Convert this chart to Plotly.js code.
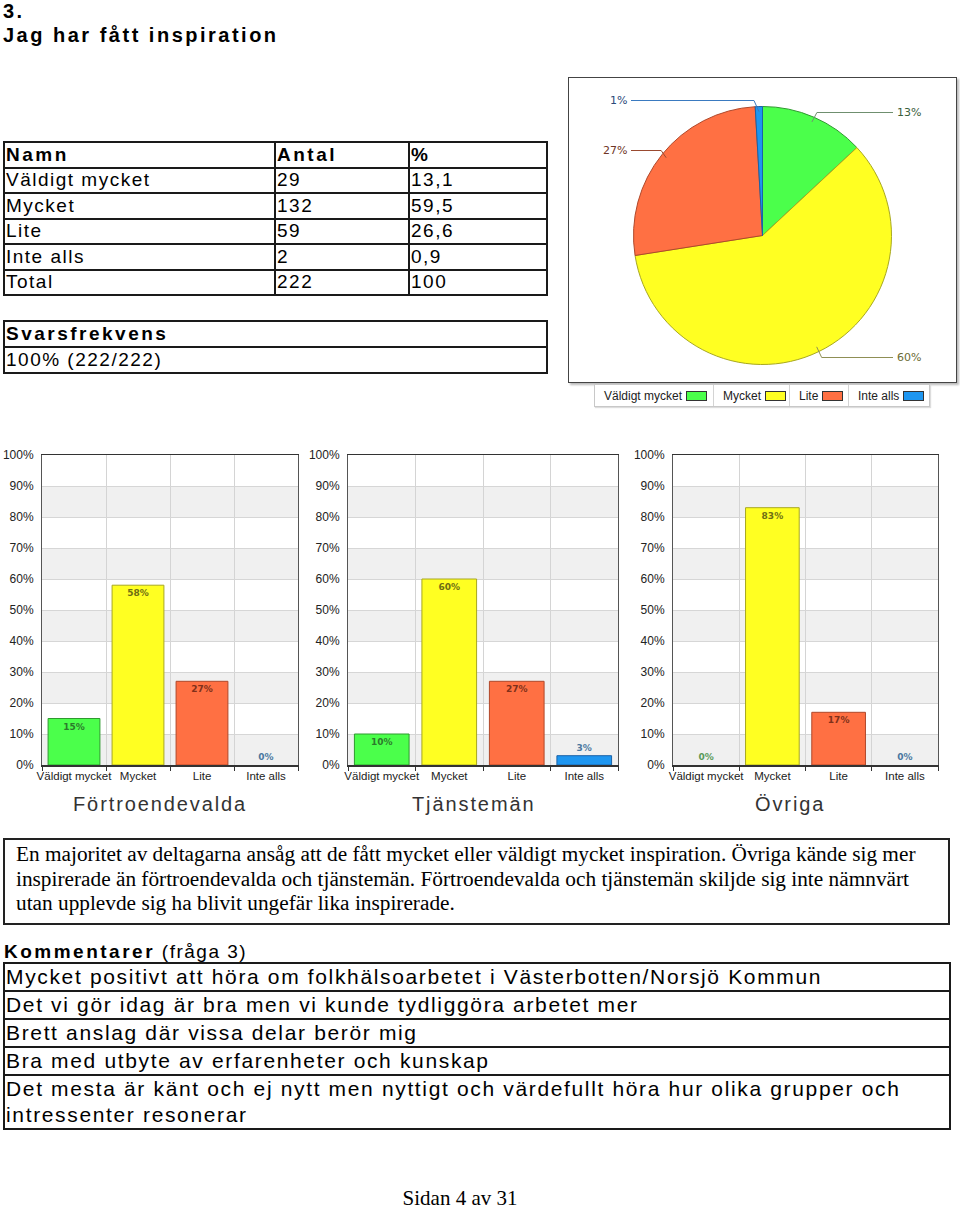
<!DOCTYPE html>
<html><head><meta charset="utf-8">
<script src="https://cdn.plot.ly/plotly-3.0.1.min.js"></script>
<style>
body{margin:0;background:#fff;}
#page{position:relative;width:960px;height:1209px;overflow:hidden;font-family:'Liberation Sans',Arial,sans-serif;color:#000;}
.abs{position:absolute;white-space:nowrap;}
table.grid{position:absolute;border-collapse:collapse;table-layout:fixed;}
table.grid td{border:2px solid #1a1a1a;padding:0 0 0 1px;white-space:nowrap;overflow:hidden;vertical-align:middle;}
.legend{position:absolute;left:594px;top:384px;width:334px;height:21px;border:1px solid #c8c8c8;box-shadow:1px 1px 1px #ddd;display:flex;align-items:center;font-family:'Liberation Sans',Arial,sans-serif;font-size:12px;color:#222;background:#fff;white-space:nowrap;}
.legend .item{display:flex;flex:none;align-items:center;justify-content:flex-start;height:100%;border-right:1px solid #d4d4d4;padding:0 0 0 9px;box-sizing:border-box;white-space:nowrap;}
.legend .item:last-child{border-right:none;}
.legend .sw{display:inline-block;width:19px;height:8px;margin-left:4px;border:1px solid #333;}
.ctitle{position:absolute;font-family:'Liberation Sans',Arial,sans-serif;font-size:20px;letter-spacing:1.9px;color:#333;white-space:nowrap;line-height:20px;}
</style></head><body>
<div id="page">
  <div class="abs" style="left:3px;top:1px;font-size:20px;line-height:20px;font-weight:bold;letter-spacing:2.5px;">3.</div>
  <div class="abs" style="left:3px;top:25px;font-size:20px;line-height:20px;font-weight:bold;letter-spacing:2.5px;">Jag har fått inspiration</div>

  <table class="grid" id="mainTable" style="left:3px;top:141px;width:545px;"></table>
  <table class="grid" id="svarTable" style="left:3px;top:320px;width:545px;"></table>

  <div style="position:absolute;left:568px;top:77px;width:387px;height:304px;border:1.5px solid #444;box-shadow:2px 2px 2px #bbb;background:#fff;">
    <div id="pie" style="width:387px;height:304px;"></div>
  </div>
  <div class="legend" id="pieLegend"></div>

  <div id="bar1" style="position:absolute;left:0px;top:445px;width:320px;height:345px;"></div>
  <div id="bar2" style="position:absolute;left:300px;top:445px;width:340px;height:345px;"></div>
  <div id="bar3" style="position:absolute;left:620px;top:445px;width:340px;height:345px;"></div>

  <div class="ctitle" id="t1" style="left:73px;top:794px;"></div>
  <div class="ctitle" id="t2" style="left:412px;top:794px;"></div>
  <div class="ctitle" id="t3" style="left:755px;top:794px;"></div>

  <div style="position:absolute;left:3px;top:838px;width:932px;height:81px;border:2px solid #222;padding:2px 0 0 11px;font-family:'Liberation Serif','Times New Roman',serif;font-size:21.3px;line-height:24.5px;white-space:nowrap;">En majoritet av deltagarna ansåg att de fått mycket eller väldigt mycket inspiration. Övriga kände sig mer<br>inspirerade än förtroendevalda och tjänstemän. Förtroendevalda och tjänstemän skiljde sig inte nämnvärt<br>utan upplevde sig ha blivit ungefär lika inspirerade.</div>

  <div class="abs" style="left:4px;top:942px;font-size:19px;line-height:19px;letter-spacing:1.5px;"><b style="letter-spacing:2.5px;">Kommentarer</b> (fråga 3)</div>
  <table class="grid" id="commentTable" style="left:3px;top:962px;width:948px;"></table>

  <div class="abs" style="left:0;width:920px;top:1189px;text-align:center;font-family:'Liberation Serif','Times New Roman',serif;font-size:21px;line-height:18px;">Sidan 4 av 31</div>
</div>
<script>
// ---------- DATA ----------
const categories = ['Väldigt mycket', 'Mycket', 'Lite', 'Inte alls'];
const antal = [29, 132, 59, 2];
const procent = ['13,1', '59,5', '26,6', '0,9'];
const totalAntal = 222;
const totalProcent = '100';
const svarsfrekvens = '100% (222/222)';
const pieLabels = ['13%', '60%', '27%', '1%'];

const groups = ['Förtroendevalda', 'Tjänstemän', 'Övriga'];
const fortroendevalda = [15, 58, 27, 0];
const tjansteman = [10, 60, 27, 3];
const ovriga = [0, 83, 17, 0];

const comments = [
  'Mycket positivt att höra om folkhälsoarbetet i Västerbotten/Norsjö Kommun',
  'Det vi gör idag är bra men vi kunde tydliggöra arbetet mer',
  'Brett anslag där vissa delar berör mig',
  'Bra med utbyte av erfarenheter och kunskap',
  'Det mesta är känt och ej nytt men nyttigt och värdefullt höra hur olika grupper och<br>intressenter resonerar'
];

// ---------- STYLES ----------
const fillColors = ['#4bff4b', '#ffff22', '#ff7043', '#1e96f0'];
const lineColors = ['#2f9a2f', '#a8a820', '#b0482a', '#1a62a8'];
const barTextColors = ['#2c7a2c', '#6e6e14', '#80301a', '#4a78a0'];
const zeroTextColors = ['#5a9a5a', '#6e6e14', '#80301a', '#4a78a0'];
const pieTextColors = ['#3b5e3b', '#6b6b33', '#6e3525', '#2b4a7a'];
const pieLeaderColors = ['#6f8f6f', '#8f8f55', '#9a4a30', '#3a7ac0'];
const legendWidths = [119, 76, 59, 80];

// ---------- TABLES ----------
const tblFont = "font-size:19px;letter-spacing:1.5px;line-height:20px;";
let h = '<colgroup><col style="width:271px"><col style="width:134px"><col style="width:138px"></colgroup>';
h += `<tr style="height:25.5px;${tblFont}"><td><b style="letter-spacing:2.5px">Namn</b></td><td><b style="letter-spacing:2.5px">Antal</b></td><td><b>%</b></td></tr>`;
categories.forEach((c, i) => {
  h += `<tr style="height:25.5px;${tblFont}"><td>${c}</td><td>${antal[i]}</td><td>${procent[i]}</td></tr>`;
});
h += `<tr style="height:25.5px;${tblFont}"><td>Total</td><td>${totalAntal}</td><td>${totalProcent}</td></tr>`;
document.getElementById('mainTable').innerHTML = h;
document.getElementById('svarTable').innerHTML =
  `<tr style="height:26px;${tblFont}"><td><b style="letter-spacing:2.5px">Svarsfrekvens</b></td></tr>` +
  `<tr style="height:26px;${tblFont}"><td>${svarsfrekvens}</td></tr>`;
let ch = '';
const rowH = [28, 27.5, 28, 27.5, 53];
comments.forEach((c, i) => {
  ch += `<tr style="height:${rowH[i]}px;font-size:21px;letter-spacing:1.65px;line-height:26px;"><td style="padding-left:1px">${c}</td></tr>`;
});
document.getElementById('commentTable').innerHTML = ch;

// chart titles
['t1', 't2', 't3'].forEach((id, i) => { document.getElementById(id).textContent = groups[i]; });

// legend
document.getElementById('pieLegend').innerHTML = categories.map((c, i) =>
  `<div class="item" style="width:${legendWidths[i]}px">${c}<span class="sw" style="background:${fillColors[i]}"></span></div>`).join('');

// ---------- PIE ----------
const PW = 387, PH = 304;
const pcx = 193.5, pcy = 157.5, pr = 129;
const labelY = [34.5, 279.5, 72.5, 22.5];
const rightLabelX = 326, leftLabelX = 60;

const total = antal.reduce((a, b) => a + b, 0);
let cum = 0;
const pieShapes = [], pieAnn = [];
antal.forEach((v, i) => {
  const mid = (cum + v / 2) / total * 2 * Math.PI;
  cum += v;
  const px = pcx + 0.96 * pr * Math.sin(mid);
  const py = pcy - 0.96 * pr * Math.cos(mid);
  const right = px > pcx;
  const lx = right ? rightLabelX : leftLabelX;
  const startX = right ? lx - 2 : lx + 2;
  const elbowX = right ? px + 5 : px - 5;
  const P = (x, y) => `${x / PW},${1 - y / PH}`;
  pieShapes.push({
    type: 'path', xref: 'paper', yref: 'paper',
    path: `M ${P(startX, labelY[i])} L ${P(elbowX, labelY[i])} L ${P(px, py)}`,
    line: { color: pieLeaderColors[i], width: 1 }
  });
  pieAnn.push({
    xref: 'paper', yref: 'paper', x: lx / PW, y: 1 - labelY[i] / PH,
    xanchor: right ? 'left' : 'right', yanchor: 'middle', showarrow: false,
    text: pieLabels[i], font: { family: 'DejaVu Sans, Verdana, sans-serif', size: 11, color: pieTextColors[i] }
  });
});

Plotly.newPlot('pie', [{
  type: 'pie', values: antal, labels: categories, sort: false, direction: 'clockwise', rotation: 0,
  marker: { colors: fillColors, line: { color: lineColors, width: 1 } },
  textinfo: 'none', hoverinfo: 'skip',
  domain: { x: [(pcx - pr) / PW, (pcx + pr) / PW], y: [(PH - pcy - pr) / PH, (PH - pcy + pr) / PH] }
}], {
  width: PW, height: PH, margin: { l: 0, r: 0, t: 0, b: 0 }, showlegend: false,
  paper_bgcolor: '#fff', shapes: pieShapes, annotations: pieAnn
}, { staticPlot: true, displayModeBar: false });

// ---------- BARS ----------
const fam = "'Liberation Sans Narrow', 'Arial Narrow', 'Liberation Sans', Arial, sans-serif";
const xTickFont = { family: fam, size: 11.5, color: '#222' };
const yTickFont = { family: fam, size: 12, color: '#222' };
function bandShapes() {
  const s = [];
  for (let v = 0; v < 100; v += 20) {
    s.push({ type: 'rect', xref: 'paper', yref: 'y', x0: 0, x1: 1, y0: v, y1: v + 10, fillcolor: '#f0f0f0', line: { width: 0 }, layer: 'below' });
  }
  return s;
}
function barChart(id, values, w, ml) {
  Plotly.newPlot(id, [{
    type: 'bar', x: categories, y: values,
    marker: { color: fillColors, line: { color: lineColors, width: values.map(v => v > 0 ? 1 : 0) } },
    text: values.map(v => v + '%'),
    textposition: values.map(v => v >= 8 ? 'inside' : 'outside'),
    insidetextanchor: 'end', constraintext: 'none', cliponaxis: false,
    textfont: { family: 'DejaVu Sans, Verdana, sans-serif', size: 9, weight: 'bold',
      color: values.map((v, i) => v === 0 ? zeroTextColors[i] : barTextColors[i]) },
    hoverinfo: 'skip'
  }], {
    width: w, height: 345, margin: { l: ml, r: 22, t: 10, b: 25 },
    paper_bgcolor: 'rgba(0,0,0,0)', plot_bgcolor: '#fff', showlegend: false, bargap: 0.19,
    xaxis: {
      type: 'category', tickson: 'boundaries', ticks: 'outside', ticklen: 4, tickcolor: '#333',
      showgrid: true, gridcolor: '#d4d4d4', showline: true, linecolor: '#333', linewidth: 1.5, mirror: true,
      tickfont: xTickFont, tickangle: 0, fixedrange: true
    },
    yaxis: {
      range: [0, 100], dtick: 10, ticksuffix: '%', showgrid: true, gridcolor: '#d6d6d6',
      showline: true, linecolor: '#555', linewidth: 1, mirror: true, zeroline: false,
      tickfont: yTickFont, ticks: '', ticklabelstandoff: 5, fixedrange: true
    },
    shapes: bandShapes()
  }, { staticPlot: true, displayModeBar: false });
}
barChart('bar1', fortroendevalda, 320, 42);
barChart('bar2', tjansteman, 340, 48);
barChart('bar3', ovriga, 340, 53);
</script>
</body></html>
